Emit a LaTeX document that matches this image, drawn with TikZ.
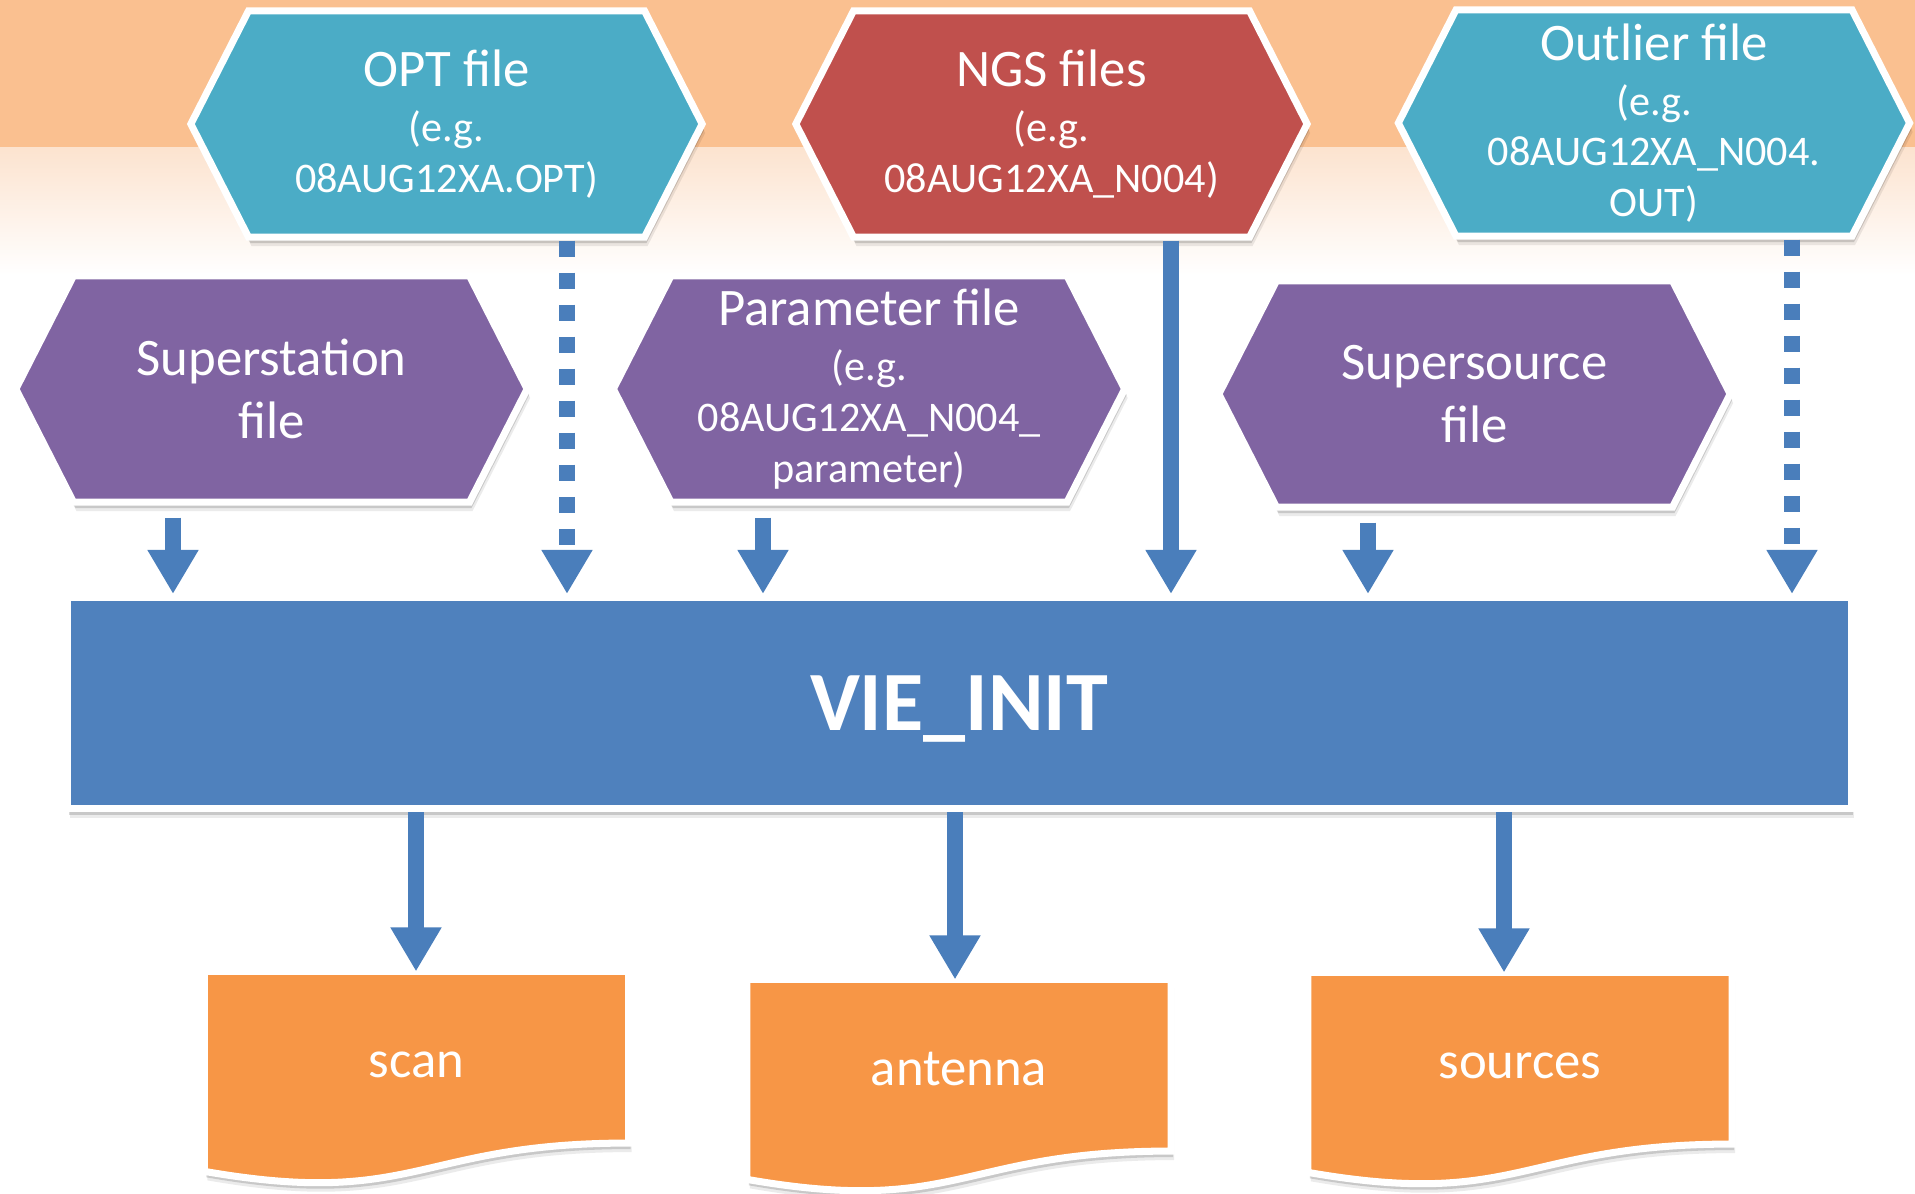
\documentclass[tikz,border=0pt]{standalone}
\usepackage{fontspec}
\setmainfont{Carlito}
\usetikzlibrary{shapes.symbols,shadows,arrows.meta,calc}

\definecolor{bandorange}{RGB}{250,192,144}
\definecolor{bandfade}{RGB}{252,227,207}
\definecolor{filecyan}{RGB}{75,172,198}
\definecolor{filered}{RGB}{192,80,77}
\definecolor{filepurple}{RGB}{128,100,162}
\definecolor{initblue}{RGB}{79,129,189}
\definecolor{outorange}{RGB}{247,150,70}
\definecolor{arrowblue}{RGB}{74,126,187}

\pgfdeclarelayer{paper}
\pgfdeclarelayer{docs}
\pgfsetlayers{paper,docs,main}

\newcommand{\filetitle}{\fontsize{15}{18}\selectfont}

\tikzset{
  softshadow/.style={
    drop shadow={shadow xshift=0.03cm,shadow yshift=-0.09cm,opacity=0.08,fill=black},
    drop shadow={shadow xshift=0.02cm,shadow yshift=-0.06cm,opacity=0.15,fill=black}},
  hexfile/.style={signal,signal to=west and east,signal pointer angle=126,
    minimum width=5.11cm,minimum height=2.26cm,inner sep=0pt,
    draw=white,line width=2pt,text=white,align=center,softshadow,
    font=\fontsize{12}{14.4}\selectfont},
  bigtext/.style={font=\fontsize{15}{18}\selectfont},
  initbox/.style={rectangle,fill=initblue,draw=white,line width=2pt,
    minimum width=17.83cm,minimum height=2.11cm,text=white,softshadow,
    font=\fontsize{24}{28}\selectfont\bfseries,text height=15.5pt,text depth=0pt},
  docnode/.style={rectangle,minimum width=4.24cm,minimum height=2.14cm,
    inner sep=0pt,outer sep=0pt,text=white,font=\fontsize{15}{18}\selectfont,
    text height=8pt,text depth=8.8pt},
  docpath/.style={fill=outorange,draw=white,line width=2pt,softshadow},
  feed/.style={draw=arrowblue,line width=0.16cm,-{Triangle[width=0.48cm,length=0.44cm]}},
  feeddash/.style={feed,dash pattern=on 0.16cm off 0.16cm},
}

\begin{document}
\begin{tikzpicture}[x=0.01cm,y=-0.01cm]
  \useasboundingbox (0,0) rectangle (1915,1193);
  \begin{pgfonlayer}{paper}
    \fill[bandorange] (0,0) rectangle (1915,147);
    \shade[top color=bandfade,bottom color=white] (0,147) rectangle (1915,275);
  \end{pgfonlayer}

  % input files
  \node[hexfile,fill=filecyan] (opt) at (446.5,124) {{\filetitle OPT file}\\[1.2pt](e.g.\\08AUG12XA.OPT)};
  \node[hexfile,fill=filered] (ngs) at (1051.5,124) {{\filetitle NGS files}\\[1.2pt](e.g.\\08AUG12XA\_N004)};
  \node[hexfile,fill=filecyan] (outl) at (1654,123) {{\filetitle Outlier file}\\[1.2pt](e.g.\\08AUG12XA\_N004.\\OUT)};
  \node[hexfile,bigtext,fill=filepurple] (sst) at (271.5,389) {Superstation\\file};
  \node[hexfile,fill=filepurple] (par) at (869,389) {{\filetitle Parameter file}\\[1.2pt](e.g.\\08AUG12XA\_N004\_\\parameter)};
  \node[hexfile,bigtext,fill=filepurple] (sso) at (1474.5,394) {Supersource\\file};

  \node[initbox] (vie) at (959,703) {VIE\_INIT};

  % output files
  \node[docnode] (scan) at (416.5,1078.5) {scan};
  \node[docnode] (ant) at (959,1086.5) {antenna};
  \node[docnode] (src) at (1520,1079.5) {sources};
  \begin{pgfonlayer}{docs}
    \foreach \d in {scan,ant,src}{
      \path[docpath] (\d.north west) -- (\d.north east) -- ++(0,171.6)
        .. controls +(-212,0) and +(212,37) .. ($(\d.north west)+(0,199.9)$) -- cycle;
    }
  \end{pgfonlayer}

  \coordinate (colsst) at (173,0);
  \coordinate (colopt) at (567,0);
  \coordinate (colpar) at (763,0);
  \coordinate (colngs) at (1171,0);
  \coordinate (colsso) at (1368,0);
  \coordinate (colout) at (1792,0);
  \coordinate (colscan) at (416,0);
  \coordinate (colant) at (955,0);
  \coordinate (colsrc) at (1504,0);

  \draw[feed] ($(sst.south -| colsst)+(0,12)$) -- (vie.north -| colsst);
  \draw[feeddash] (opt.south -| colopt) -- (vie.north -| colopt);
  \draw[feed] ($(par.south -| colpar)+(0,12)$) -- (vie.north -| colpar);
  \draw[feed] (ngs.south -| colngs) -- (vie.north -| colngs);
  \draw[feed] ($(sso.south -| colsso)+(0,12)$) -- (vie.north -| colsso);
  \draw[feeddash] (outl.south -| colout) -- (vie.north -| colout);

  \draw[feed] (vie.south -| colscan) -- (scan.north -| colscan);
  \draw[feed] (vie.south -| colant) -- (ant.north -| colant);
  \draw[feed] (vie.south -| colsrc) -- (src.north -| colsrc);
\end{tikzpicture}
\end{document}
